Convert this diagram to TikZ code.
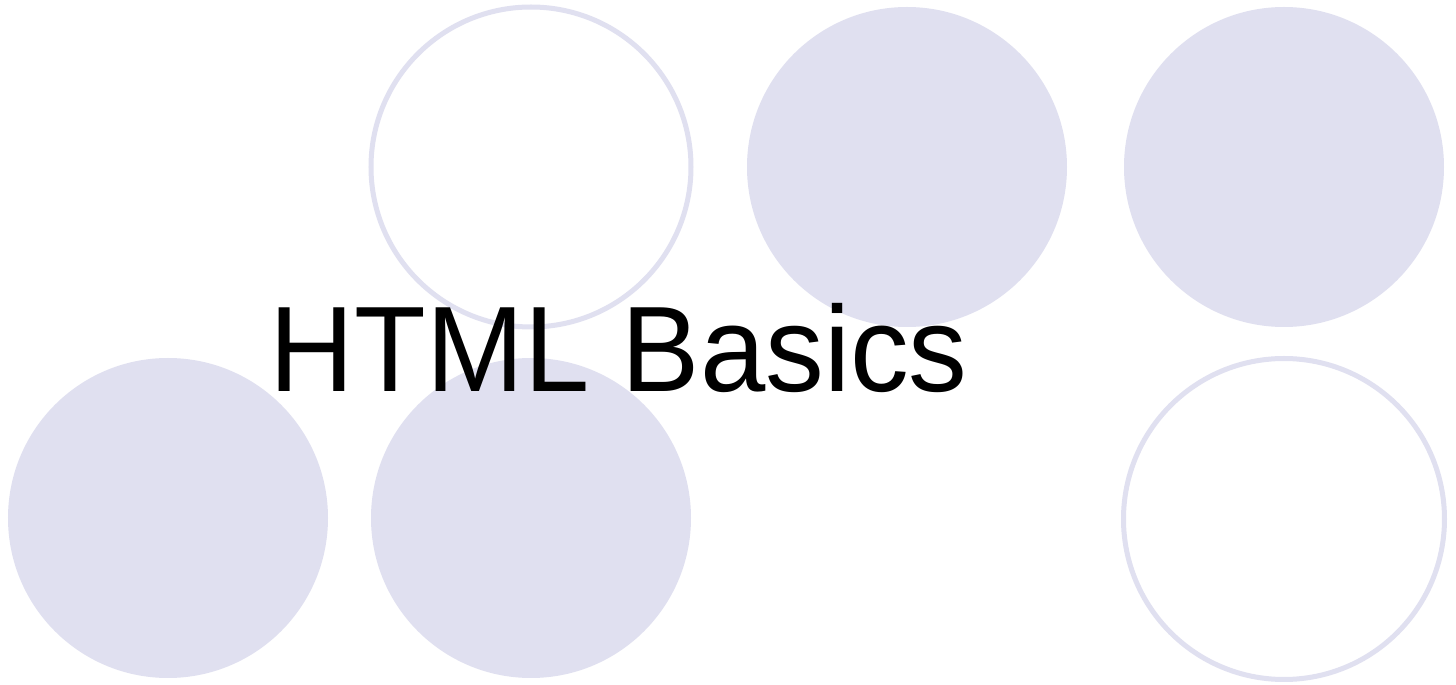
\documentclass[tikz,border=0pt]{standalone}
\usepackage{fontspec}
\setmainfont{Liberation Sans}
\newfontfamily\titlefont[FakeStretch=0.965]{Liberation Sans}
\definecolor{dotfill}{RGB}{224,224,240}
\begin{document}
\begin{tikzpicture}[x=0.01cm,y=-0.01cm]
\useasboundingbox (0,0) rectangle (1456,685);
\fill[white] (0,0) rectangle (1456,685);
\draw[dotfill,line width=0.05cm] (531,167) circle (160);
\fill[dotfill] (907,167) circle (160);
\fill[dotfill] (1284,167) circle (160);
\fill[dotfill] (168,518) circle (160);
\fill[dotfill] (531,518) circle (160);
\draw[dotfill,line width=0.05cm] (1284,519) circle (160.5);
\node[anchor=base west,inner sep=0,font=\titlefont\fontsize{34.6pt}{40pt}\selectfont] (title) at (269,392) {HTML Basics};
\end{tikzpicture}
\end{document}
